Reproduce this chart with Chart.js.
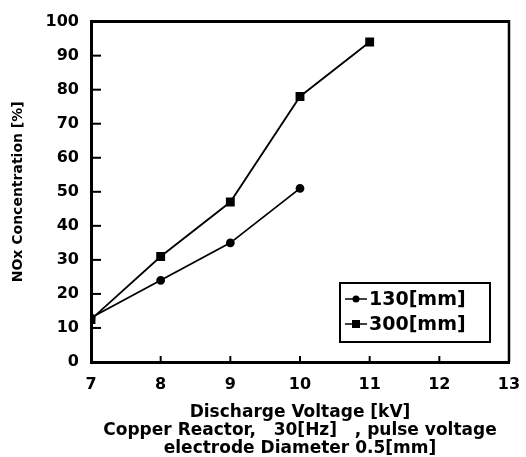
<!DOCTYPE html>
<html><head><meta charset="utf-8">
<script src="https://cdn.jsdelivr.net/npm/chart.js@4"></script>
<style>html,body{margin:0;padding:0;background:#fff;}#wrap{width:526px;height:457px;}</style>
</head><body><div id="wrap"><canvas id="c" width="526" height="457"></canvas></div>
<script>
const voltage130 = [7, 8, 9, 10];
const nox130 = [13, 24, 35, 51];
const voltage300 = [7, 8, 9, 10, 11];
const nox300 = [12.5, 31, 47, 78, 94];
const seriesLabels = ['130[mm]', '300[mm]'];
const xTitleLines = ['Discharge Voltage [kV]', 'Copper Reactor,   30[Hz]   , pulse voltage', 'electrode Diameter 0.5[mm]'];
const yTitle = 'NOx Concentration [%]';

const FONT = '"DejaVu Sans", sans-serif';

const innerTicks = {
  id: 'innerTicks',
  afterDraw(chart) {
    const {ctx, chartArea: a, scales: {x, y}} = chart;
    ctx.save();
    ctx.strokeStyle = '#000';
    ctx.lineWidth = 3;
    ctx.beginPath(); ctx.moveTo(a.left, a.top); ctx.lineTo(a.right, a.top); ctx.stroke();
    ctx.lineWidth = 2.5;
    ctx.beginPath(); ctx.moveTo(a.right, a.top - 1.5); ctx.lineTo(a.right, a.bottom); ctx.stroke();
    ctx.lineWidth = 2;
    y.ticks.forEach(t => {
      if (t.value <= y.min || t.value >= y.max) return;
      const py = y.getPixelForValue(t.value);
      ctx.beginPath(); ctx.moveTo(a.left, py); ctx.lineTo(a.left + 10, py); ctx.stroke();
    });
    x.ticks.forEach(t => {
      if (t.value <= x.min || t.value >= x.max) return;
      const px = x.getPixelForValue(t.value);
      ctx.beginPath(); ctx.moveTo(px, a.bottom); ctx.lineTo(px, a.bottom - 6); ctx.stroke();
    });
    const lx = 340, ly = 283, lw = 150, lh = 59;
    ctx.lineWidth = 2;
    ctx.strokeRect(lx, ly, lw, lh);
    ctx.font = 'bold 19px ' + FONT;
    ctx.textBaseline = 'middle';
    ctx.fillStyle = '#000';
    chart.data.datasets.forEach((ds, i) => {
      const yy = ly + 16 + i * 25;
      ctx.lineWidth = 1.5;
      ctx.beginPath(); ctx.moveTo(lx + 5, yy); ctx.lineTo(lx + 27, yy); ctx.stroke();
      if (ds.pointStyle === 'rect') ctx.fillRect(lx + 12, yy - 4, 8, 8);
      else { ctx.beginPath(); ctx.arc(lx + 16, yy, 3.5, 0, Math.PI * 2); ctx.fill(); }
      ctx.fillText(ds.label, lx + 29, yy + 1);
    });
    ctx.restore();
  }
};

new Chart(document.getElementById('c'), {
  type: 'scatter',
  data: {
    datasets: [
      { label: seriesLabels[0], data: voltage130.map((v, i) => ({x: v, y: nox130[i]})),
        showLine: true, borderColor: '#000', backgroundColor: '#000', borderWidth: 1.8,
        pointStyle: 'circle', pointRadius: 3.5, pointHoverRadius: 3.5 },
      { label: seriesLabels[1], data: voltage300.map((v, i) => ({x: v, y: nox300[i]})),
        showLine: true, borderColor: '#000', backgroundColor: '#000', borderWidth: 1.8,
        pointStyle: 'rect', pointRadius: 5, pointHoverRadius: 5 }
    ]
  },
  options: {
    responsive: false, animation: false, devicePixelRatio: 1,
    layout: { padding: { left: 6, top: 17, right: 17, bottom: 0 } },
    plugins: { legend: { display: false }, tooltip: { enabled: false } },
    scales: {
      x: {
        type: 'linear', min: 7, max: 13,
        ticks: { stepSize: 1, color: '#000', font: { family: FONT, weight: 'bold', size: 16 }, padding: 13 },
        grid: { drawOnChartArea: false, drawTicks: false },
        border: { color: '#000', width: 3 },
        title: { display: true, text: xTitleLines, color: '#000', font: { family: FONT, weight: 'bold', size: 17, lineHeight: 1.06 }, padding: { top: 0, bottom: -1 } },
        afterFit(s) { s.height = 95; s.paddingRight = 0; s.paddingLeft = 0; }
      },
      y: {
        min: 0, max: 100,
        ticks: { stepSize: 10, color: '#000', font: { family: FONT, weight: 'bold', size: 16 }, padding: 12 },
        grid: { drawOnChartArea: false, drawTicks: false },
        border: { color: '#000', width: 3 },
        title: { display: true, text: yTitle, color: '#000', font: { family: FONT, weight: 'bold', size: 14 }, padding: { bottom: 8 } },
        afterFit(s) { s.width = 85; }
      }
    }
  },
  plugins: [innerTicks]
});
</script></body></html>
